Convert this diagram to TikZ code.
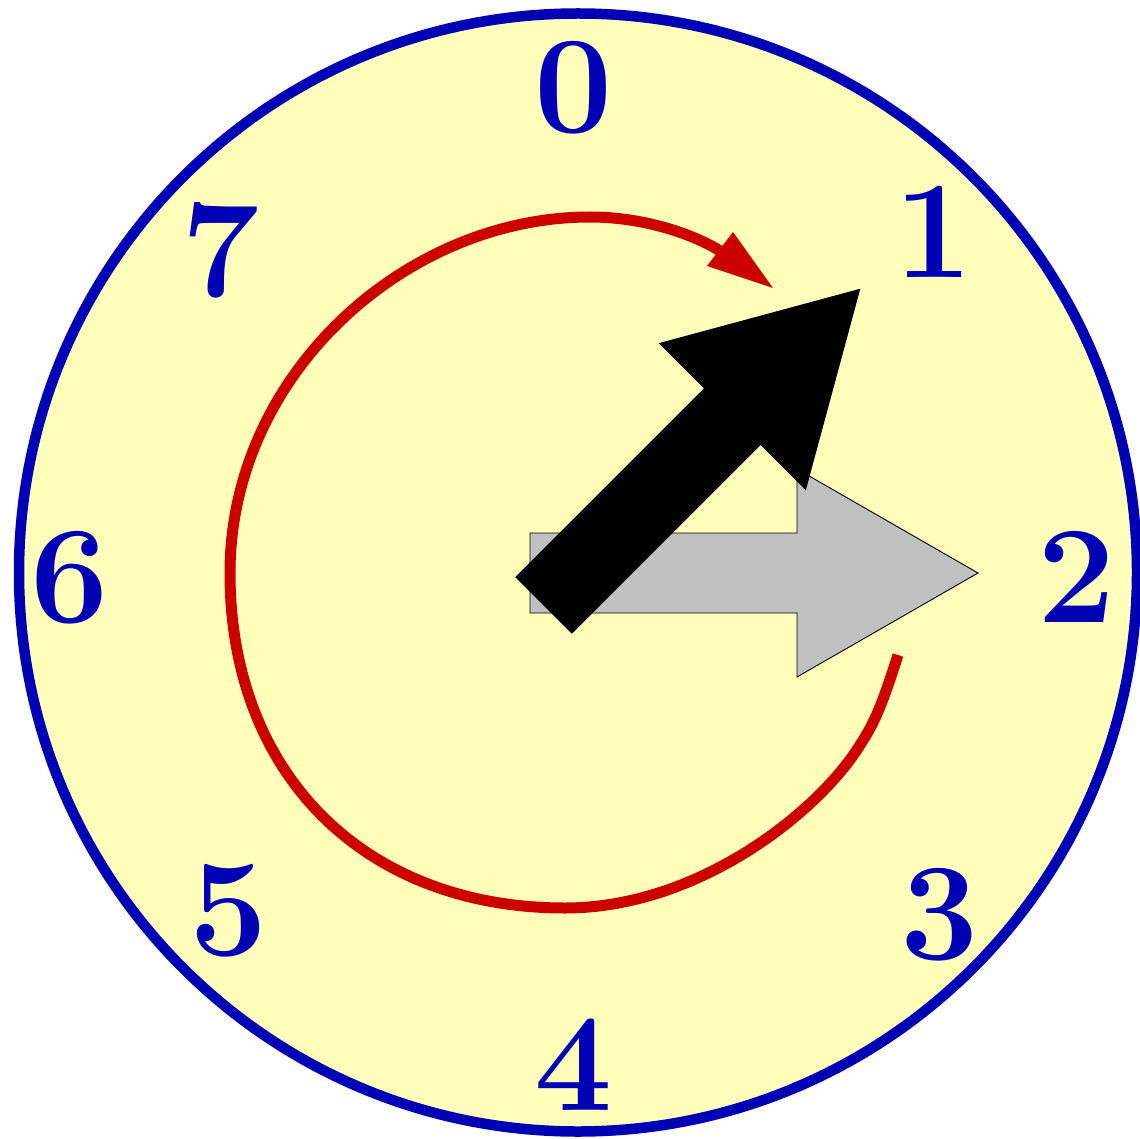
\documentclass[tikz,border=0pt]{standalone}
\definecolor{clockblue}{RGB}{0,0,180}
\definecolor{clockyellow}{RGB}{255,255,187}
\definecolor{handred}{RGB}{204,0,0}
\definecolor{handgray}{RGB}{192,192,192}
\begin{document}
\begin{tikzpicture}[x=1pt,y=-1pt,
  digit/.style={inner sep=0pt, text=clockblue, font=\fontsize{139}{139}\selectfont\bfseries},
  face/.style={draw=clockblue, line width=10.5pt, fill=clockyellow},
  spiral/.style={draw=handred, line width=11pt},
  grayhand/.style={fill=handgray, draw=black, line width=0.9pt, line join=miter},
  blackhand/.style={fill=black, draw=none}]
\useasboundingbox (0,0) rectangle (1140,1139);
\fill[white] (0,0) rectangle (1140,1139);
\path[face] (578,572.5) circle[radius=559];
\node[digit] (d0) at (574,88) {0};
\node[digit] (d1) at (934,232) {1};
\node[digit] (d2) at (1077,577) {2};
\node[digit] (d3) at (940,915) {3};
\node[digit] (d4) at (574,1065) {4};
\node[digit] (d5) at (229,911) {5};
\node[digit] (d6) at (70,578) {6};
\node[digit] (d7) at (221,250) {7};
\path[spiral] (898,655) .. controls (882,705) and (875,722) .. (860,745)
  .. controls (820,810) and (700,908) .. (565,908)
  .. controls (365,908) and (230,775) .. (230,573)
  .. controls (230,375) and (405,217) .. (590,217)
  .. controls (640,217) and (690,232) .. (722,252);
\fill[handred] (733,232) -- (707,266) -- (773,288) -- cycle;
\path[grayhand] (530,533) -- (797,533) -- (797,469) -- (978,573) -- (797,677) -- (797,613) -- (530,613) -- cycle;
\path[blackhand] (515.2,577.2) -- (704,388.4) -- (658.7,343.2) -- (860.3,288.7) -- (805.8,490.3) -- (760.6,445) -- (571.8,633.8) -- cycle;
\end{tikzpicture}
\end{document}
